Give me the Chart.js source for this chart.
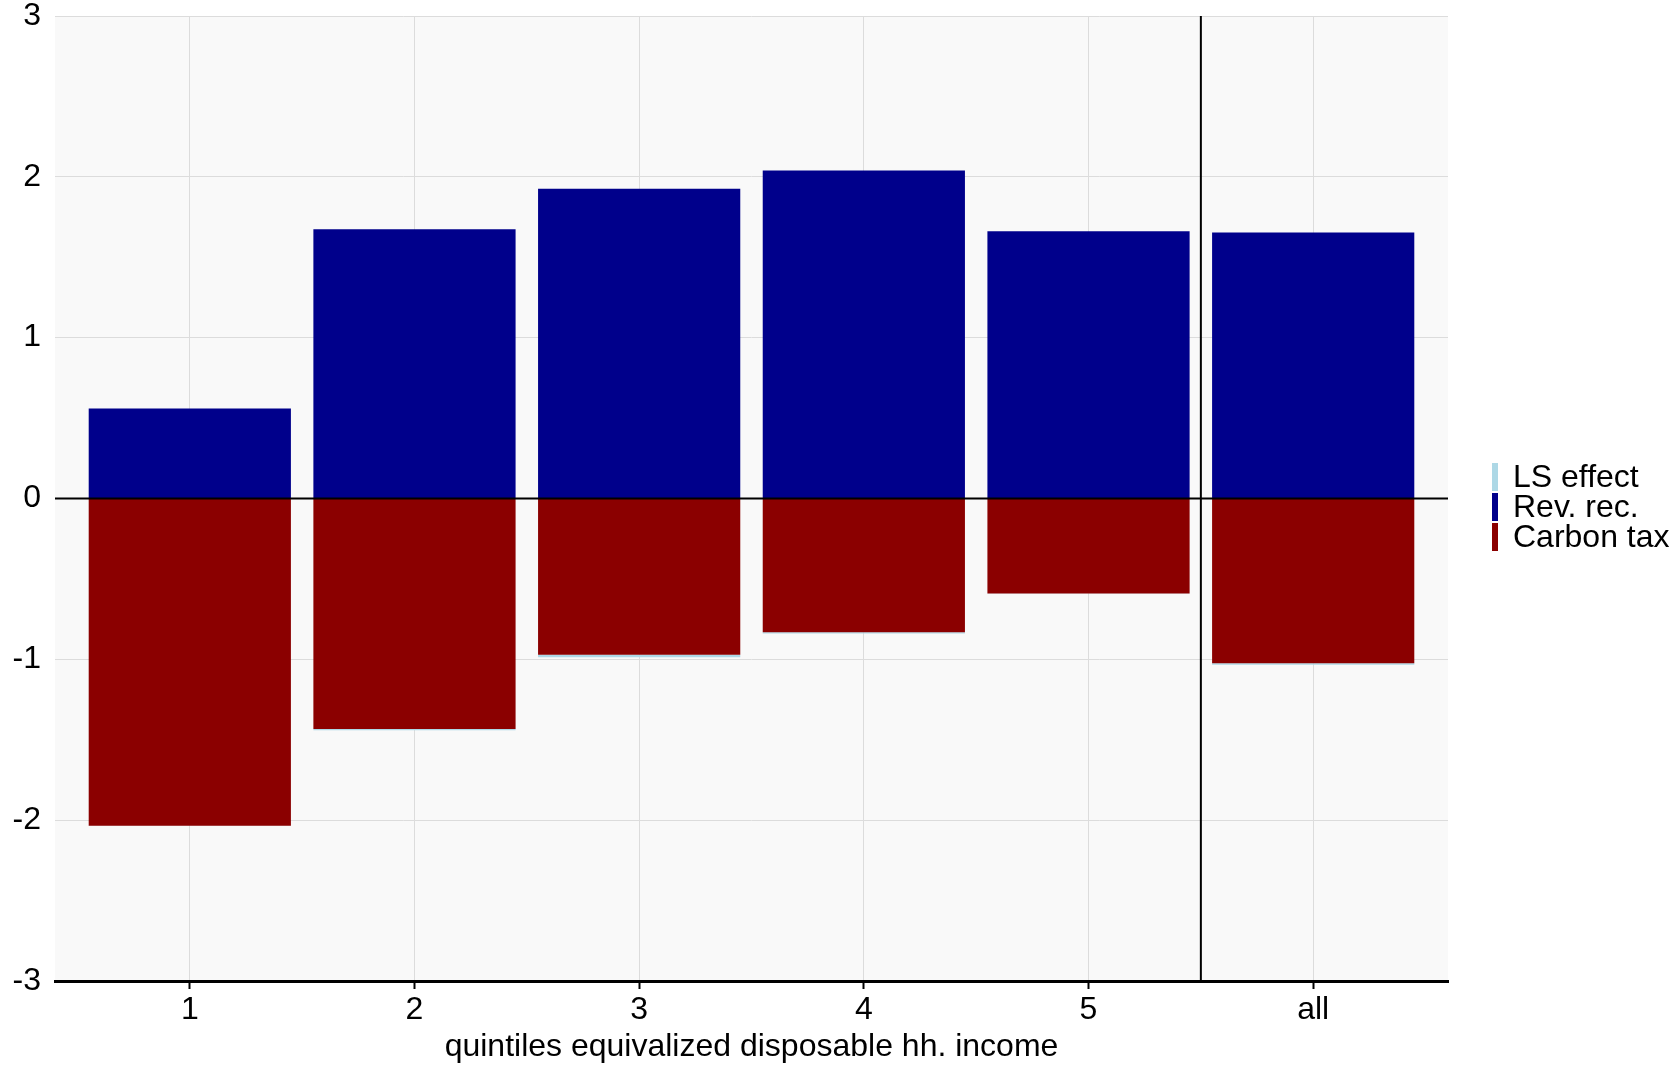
<!DOCTYPE html>
<html>
<head>
<meta charset="utf-8">
<script src="https://cdn.jsdelivr.net/npm/chart.js@4"></script>
<style>
  html, body { margin: 0; padding: 0; background: #ffffff; }
  #wrap { width: 1672px; height: 1066px; }
</style>
</head>
<body>
<div id="wrap"><canvas id="IncomeChart" width="1672" height="1066"></canvas></div>
<script>
(function () {
  "use strict";

  // data
  const categories   = ['1', '2', '3', '4', '5', 'all'];
  const positions    = [1, 2, 3, 4, 5, 6];
  const carbon_tax   = [-2.034, -1.433, -0.972, -0.832, -0.590, -1.025];
  const ls_effect    = [-0.002, -0.008, -0.015, -0.008, -0.002, -0.008];
  const rev_rec      = [0.560, 1.674, 1.926, 2.039, 1.661, 1.654];
  const y_ticks      = [-3, -2, -1, 0, 1, 2, 3];
  const divider_at   = 5.5;

  // colors
  const color_carbon = '#8b0000';
  const color_rev    = '#00008b';
  const color_ls     = '#add8e6';
  const grid_color   = '#dcdcdc';
  const panel_bg     = '#f9f9f9';

  Chart.defaults.font.family = '"Liberation Sans", Arial, sans-serif';
  Chart.defaults.font.size = 32;
  Chart.defaults.color = '#000000';

  const toPoints = (vals) => vals.map(function (v, i) { return { x: positions[i], y: v }; });

  // panel background + reference lines + legend
  const panelPlugin = {
    id: 'panel',
    beforeDraw(chart) {
      const a = chart.chartArea;
      const ctx = chart.ctx;
      ctx.save();
      ctx.fillStyle = panel_bg;
      ctx.fillRect(a.left, a.top, a.right - a.left, a.bottom - a.top);
      ctx.restore();
    },
    afterDatasetsDraw(chart) {
      const a = chart.chartArea;
      const ctx = chart.ctx;
      const y0 = chart.scales.y.getPixelForValue(0);
      const xd = chart.scales.x.getPixelForValue(divider_at);
      ctx.save();
      ctx.strokeStyle = '#000000';
      ctx.lineWidth = 2;
      ctx.beginPath();
      ctx.moveTo(a.left, y0);
      ctx.lineTo(a.right, y0);
      ctx.moveTo(xd, a.top);
      ctx.lineTo(xd, a.bottom);
      ctx.stroke();
      ctx.restore();
    },
    afterDraw(chart) {
      const ctx = chart.ctx;
      const items = [
        { label: 'LS effect', color: color_ls },
        { label: 'Rev. rec.', color: color_rev },
        { label: 'Carbon tax', color: color_carbon }
      ];
      const x0 = 1492, yStart = 462, step = 30;
      ctx.save();
      ctx.font = '32px "Liberation Sans", Arial, sans-serif';
      ctx.textBaseline = 'middle';
      items.forEach(function (it, i) {
        const yc = yStart + i * step + step / 2;
        ctx.fillStyle = it.color;
        ctx.fillRect(x0, yc - 14, 6, 28);
        ctx.fillStyle = '#000000';
        ctx.fillText(it.label, x0 + 21, yc + 1);
      });
      ctx.restore();
    }
  };

  const chart_el = document.getElementById('IncomeChart');
  const cts = chart_el.getContext('2d');

  new Chart(cts, {
    type: 'bar',
    data: {
      datasets: [
        { label: 'Carbon tax', data: toPoints(carbon_tax), backgroundColor: color_carbon },
        { label: 'LS effect',  data: toPoints(ls_effect),  backgroundColor: color_ls },
        { label: 'Rev. rec.',  data: toPoints(rev_rec),    backgroundColor: color_rev }
      ]
    },
    options: {
      responsive: false,
      animation: false,
      layout: { padding: { top: 0, right: 224, left: 0, bottom: 0 } },
      datasets: {
        bar: { barPercentage: 1.0, categoryPercentage: 0.9, borderWidth: 0 }
      },
      scales: {
        x: {
          type: 'linear',
          stacked: true,
          offset: false,
          min: 0.4,
          max: 6.6,
          afterBuildTicks(axis) {
            axis.ticks = positions.map(function (p) { return { value: p }; });
          },
          afterFit(axis) { axis.height = 85; },
          border: { display: true, color: '#000000', width: 3 },
          grid: {
            offset: false,
            color: grid_color,
            tickColor: '#000000',
            lineWidth: 1,
            tickLength: 8,
            tickWidth: 2
          },
          ticks: {
            padding: 2,
            maxRotation: 0,
            autoSkip: false,
            callback: function (v) {
              const i = positions.indexOf(v);
              return i >= 0 ? categories[i] : '';
            }
          },
          title: {
            display: true,
            text: 'quintiles equivalized disposable hh. income',
            padding: { top: 0, bottom: 0 }
          }
        },
        y: {
          stacked: true,
          min: -3,
          max: 3,
          afterBuildTicks(axis) {
            axis.ticks = y_ticks.map(function (v) { return { value: v }; });
          },
          afterFit(axis) { axis.width = 55; },
          border: { display: false },
          grid: { color: grid_color, lineWidth: 1, drawTicks: false },
          ticks: { padding: 14, font: { lineHeight: 0.125 } }
        }
      },
      plugins: {
        legend: { display: false },
        tooltip: { enabled: false }
      }
    },
    plugins: [panelPlugin]
  });
})();
</script>
</body>
</html>
